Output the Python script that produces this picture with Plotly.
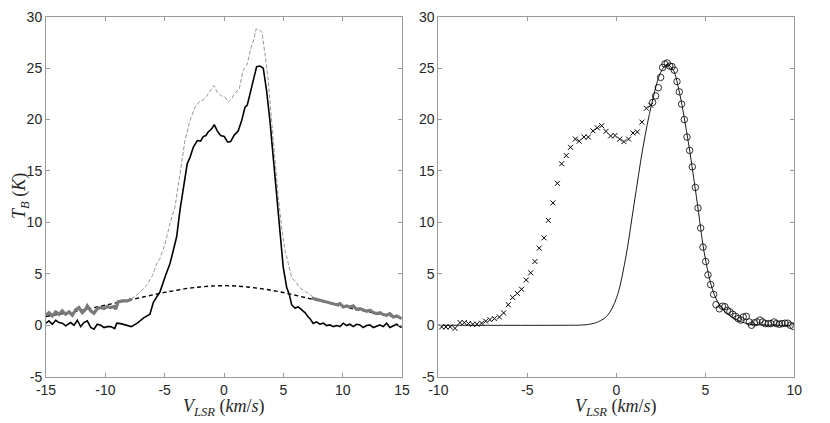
import plotly.graph_objects as go

# ---------------- Left panel data ----------------
solid_v = [-15.0, -14.75, -14.47, -14.18, -13.9, -13.63, -13.34, -12.92, -12.64, -12.36,
           -12.08, -11.8, -11.52, -11.23, -10.96, -10.68, -10.39, -10.11, -9.84, -9.55,
           -9.21, -9.04, -8.71, -8.29, -7.81, -7.31, -6.74, -6.24, -5.96, -5.62,
           -5.4, -4.97, -4.55, -4.27, -3.99, -3.71, -3.43, -3.1, -2.87, -2.59,
           -2.25, -1.97, -1.75, -1.52, -1.33, -1.04, -0.82, -0.57, -0.28, 0.02,
           0.31, 0.56, 0.84, 1.2, 1.49, 1.77, 1.96, 2.25, 2.61, 2.75,
           3.03, 3.31, 3.59, 3.87, 4.15, 4.43, 4.71, 4.99, 5.28, 5.5,
           5.7, 5.98, 6.26, 6.54, 6.82, 7.1, 7.24, 7.52, 7.8, 8.08,
           8.37, 8.65, 8.93, 9.21, 9.49, 9.77, 10.05, 10.33, 10.61, 10.89,
           11.17, 11.45, 11.73, 12.02, 12.3, 12.58, 12.86, 13.14, 13.42, 13.7,
           13.98, 14.26, 14.55, 14.82, 14.97]
solid_T = [0.2, 0.43, 0.1, 0.49, 0.26, 0.2, -0.06, 0.26, 0.0, 0.49,
           -0.13, 0.26, 0.43, -0.22, -0.38, 0.1, 0.0, -0.22, -0.13, -0.13,
           -0.32, 0.2, 0.16, 0.0, -0.13, 0.2, 0.75, 1.07, 2.2, 2.85,
           3.23, 4.7, 6.0, 7.3, 8.6, 11.2, 13.4, 15.7, 16.3, 17.3,
           17.96, 17.9, 18.35, 18.45, 18.8, 19.1, 19.5, 18.9, 18.45, 18.35,
           17.8, 17.86, 18.45, 18.9, 19.9, 21.2, 21.4, 22.8, 24.6, 25.15,
           25.2, 25.0, 22.8, 19.9, 16.3, 12.5, 8.9, 5.66, 3.7, 3.0,
           2.0, 1.68, 1.78, 1.46, 1.23, 0.8, 0.65, 0.17, 0.33, 0.1,
           0.2, -0.03, 0.03, -0.13, -0.03, -0.13, 0.2, -0.03, 0.1, -0.13,
           0.1, 0.03, -0.22, -0.03, 0.03, -0.22, -0.13, 0.03, -0.13, 0.2,
           -0.22, -0.03, 0.1, -0.13, -0.22]

orig_v = [-7.81, -7.3, -6.74, -6.47, -6.0, -5.67, -5.4, -4.97, -4.55, -4.13,
          -3.71, -3.29, -2.87, -2.45, -2.03, -1.75, -1.46, -1.18, -0.85, -0.57,
          -0.2, 0.08, 0.36, 0.64, 0.92, 1.29, 1.62, 1.96, 2.25, 2.52,
          2.7, 2.95, 3.2, 3.45, 3.73, 4.01, 4.29, 4.57, 4.86, 5.14,
          5.42, 5.7, 5.98, 6.4, 6.83, 7.25, 7.52]
orig_T = [2.55, 3.0, 3.6, 3.95, 4.9, 6.0, 6.5, 7.9, 9.9, 11.5,
          14.7, 17.96, 19.9, 21.2, 21.8, 21.9, 22.3, 22.8, 23.3, 22.65,
          22.3, 22.2, 21.7, 22.0, 22.55, 23.0, 24.8, 25.4, 26.9, 27.8,
          28.8, 28.75, 28.5, 26.4, 23.8, 19.9, 16.0, 12.5, 9.5, 7.3,
          6.0, 4.6, 4.3, 3.65, 3.3, 3.0, 2.7]

wingL_v = [-15.0, -14.75, -14.47, -14.18, -13.9, -13.63, -13.34, -13.06, -12.78, -12.5,
           -12.22, -11.94, -11.66, -11.52, -11.23, -10.96, -10.68, -10.39, -10.11, -9.84,
           -9.55, -9.27, -9.13, -8.93, -8.57, -8.15, -7.81]
wingL_T = [0.98, 1.23, 0.91, 1.3, 1.07, 1.4, 1.07, 1.3, 0.98, 1.49,
           1.72, 1.23, 1.56, 1.88, 1.4, 1.17, 1.62, 1.72, 1.62, 1.82,
           1.72, 1.82, 1.56, 2.27, 2.37, 2.37, 2.53]
wingR_v = [7.38, 7.8, 8.23, 8.65, 9.07, 9.49, 9.77, 10.05, 10.33, 10.61,
           10.89, 11.17, 11.45, 11.73, 12.02, 12.3, 12.58, 12.86, 13.14, 13.42,
           13.7, 13.98, 14.26, 14.55, 14.82, 14.97]
wingR_T = [2.65, 2.53, 2.43, 2.27, 2.2, 2.0, 2.1, 1.78, 1.88, 1.78,
           1.88, 1.55, 1.62, 1.46, 1.36, 1.46, 1.23, 1.13, 1.23, 1.04,
           0.97, 1.13, 0.81, 0.91, 0.72, 0.65]

base_v = list(range(-15, 16))
base_T = [0.85, 1.05, 1.25, 1.45, 1.7, 1.95, 2.2, 2.45, 2.7, 2.95,
          3.2, 3.4, 3.6, 3.72, 3.82, 3.85, 3.82, 3.72, 3.58, 3.4,
          3.18, 2.92, 2.65, 2.38, 2.1, 1.82, 1.57, 1.35, 1.12, 0.9, 0.72]

# ---------------- Right panel data ----------------
cross_v = [-9.81, -9.57, -9.33, -9.06, -8.78, -8.54, -8.31, -8.07, -7.83, -7.57,
           -7.34, -7.1, -6.85, -6.57, -6.33, -6.07, -5.82, -5.56, -5.32, -5.06,
           -4.81, -4.57, -4.33, -4.06, -3.82, -3.56, -3.31, -3.07, -2.81, -2.57,
           -2.30, -2.08, -1.82, -1.57, -1.31, -1.07, -0.82, -0.58, -0.32, -0.07,
           0.19, 0.43, 0.69, 0.94, 1.18, 1.44, 1.69, 1.93]
cross_T = [-0.16, -0.16, -0.16, -0.3, 0.26, 0.26, 0.16, 0.1, 0.1, 0.2,
           0.4, 0.55, 0.65, 0.8, 1.2, 2.0, 2.7, 3.1, 3.5, 4.4,
           5.1, 6.2, 7.5, 8.5, 10.2, 11.9, 13.8, 15.7, 16.5, 17.3,
           18.1, 17.9, 18.3, 18.3, 18.9, 19.2, 19.4, 18.85, 18.4, 18.45,
           18.1, 17.85, 18.1, 18.7, 18.8, 19.75, 21.1, 21.4]

circ_v = [2.04, 2.21, 2.36, 2.49, 2.60, 2.73, 2.86, 3.0, 3.13, 3.26,
          3.41, 3.54, 3.67, 3.82, 3.97, 4.12, 4.27, 4.44, 4.59, 4.74,
          4.87, 5.02, 5.15, 5.30, 5.47, 5.60, 5.79, 5.96, 6.10, 6.24,
          6.38, 6.54, 6.70, 6.85, 7.0, 7.13, 7.30, 7.47, 7.60, 7.75,
          7.90, 8.07, 8.22, 8.37, 8.54, 8.69, 8.86, 9.0, 9.16, 9.31,
          9.48, 9.63, 9.78, 9.94]
circ_T = [21.66, 22.3, 23.1, 24.1, 25.06, 25.4, 25.5, 25.2, 25.15, 24.8,
          23.7, 22.7, 21.5, 20.0, 18.3, 17.0, 15.4, 13.4, 11.4, 9.45,
          7.6, 6.2, 4.9, 3.95, 3.0, 2.0, 1.6, 1.85, 1.8, 1.45,
          1.3, 1.07, 0.87, 0.65, 0.5, 0.8, 0.87, 0.32, 0.0, 0.23,
          0.32, 0.5, 0.32, 0.16, 0.16, 0.16, 0.32, 0.16, 0.1, 0.16,
          0.2, 0.2, 0.0, -0.1]

fit_v = [-10, -3, -2, -1.5, -1, -0.5, 0, 0.5, 1, 1.5,
         2, 2.5, 2.85, 3.2, 3.5, 4, 4.5, 5, 5.5, 6,
         6.5, 7, 7.5, 8, 9, 10]
fit_T = [0, 0, 0.02, 0.1, 0.35, 0.95, 2.6, 6.3, 11.8, 17.3,
         21.6, 24.6, 25.35, 24.8, 23.0, 18.3, 12.5, 6.5, 3.0, 1.5,
         0.8, 0.35, 0.12, 0.04, 0, 0]

# ---------------- Styling ----------------
AX = "#9a9a9a"
TXT = "#262626"
TICKFONT = dict(family="Liberation Sans, Arial, sans-serif", size=14, color=TXT)
LABFONT = dict(family="Liberation Serif, DejaVu Serif, serif", size=18, color=TXT)

# page body adds an 8px offset; the figure is sized and positioned to compensate
OFF = 8
W, H = 830 - OFF, 423 - OFF


def px(xw):
    return (xw - OFF) / W


def py(yw):
    return (H - (yw - OFF)) / H


fig = go.Figure()

# left panel
fig.add_trace(go.Scatter(x=base_v, y=base_T, mode="lines", line_shape="spline",
                         line=dict(color="black", width=1.4, dash="4px,3px"),
                         xaxis="x", yaxis="y", showlegend=False))
fig.add_trace(go.Scatter(x=orig_v, y=orig_T, mode="lines",
                         line=dict(color="#8a8a8a", width=0.9, dash="4px,2px"),
                         xaxis="x", yaxis="y", showlegend=False))
fig.add_trace(go.Scatter(x=wingL_v + [None] + wingR_v, y=wingL_T + [None] + wingR_T,
                         mode="lines", line=dict(color="#7a7a7a", width=3.2),
                         xaxis="x", yaxis="y", showlegend=False, connectgaps=False))
fig.add_trace(go.Scatter(x=solid_v, y=solid_T, mode="lines",
                         line=dict(color="black", width=1.6),
                         xaxis="x", yaxis="y", showlegend=False))

# right panel
fig.add_trace(go.Scatter(x=fit_v, y=fit_T, mode="lines", line_shape="spline",
                         line=dict(color="black", width=0.9),
                         xaxis="x2", yaxis="y2", showlegend=False))
fig.add_trace(go.Scatter(x=cross_v, y=cross_T, mode="markers",
                         marker=dict(symbol="x-thin", size=5, color="black",
                                     line=dict(color="black", width=1)),
                         xaxis="x2", yaxis="y2", showlegend=False))
fig.add_trace(go.Scatter(x=circ_v, y=circ_T, mode="markers",
                         marker=dict(symbol="circle-open", size=6.5, color="black",
                                     line=dict(color="black", width=0.8)),
                         xaxis="x2", yaxis="y2", showlegend=False))

yticks = [-5, 0, 5, 10, 15, 20, 25, 30]
ytext = [str(t) for t in yticks]
x1ticks = [-15, -10, -5, 0, 5, 10, 15]
x2ticks = [-10, -5, 0, 5, 10]

common = dict(showline=True, mirror="ticks", linecolor=AX, linewidth=1,
              ticks="inside", ticklen=4, tickcolor=AX, tickwidth=1,
              showgrid=False, zeroline=False, tickfont=TICKFONT, automargin=False)

ydom = [py(376.7), py(16.7)]
fig.update_layout(
    width=W, height=H,
    margin=dict(l=0, r=0, t=0, b=0, autoexpand=False),
    paper_bgcolor="white", plot_bgcolor="white",
    xaxis=dict(domain=[px(46), px(402)], range=[-15, 15], anchor="y",
               tickvals=x1ticks, ticktext=[str(t) for t in x1ticks], **common),
    yaxis=dict(domain=ydom, range=[-5, 30], anchor="x",
               tickvals=yticks, ticktext=ytext, **common),
    xaxis2=dict(domain=[px(438.3), px(794.3)], range=[-10, 10], anchor="y2",
                tickvals=x2ticks, ticktext=[str(t) for t in x2ticks], **common),
    yaxis2=dict(domain=ydom, range=[-5, 30], anchor="x2",
                tickvals=yticks, ticktext=ytext, **common),
    annotations=[
        dict(text="<i>V</i><sub><i>LSR</i></sub> (<i>km</i>/<i>s</i>)", xref="paper", yref="paper",
             x=px(224), y=py(407), showarrow=False, font=LABFONT,
             xanchor="center", yanchor="middle"),
        dict(text="<i>V</i><sub><i>LSR</i></sub> (<i>km</i>/<i>s</i>)", xref="paper", yref="paper",
             x=px(616), y=py(407), showarrow=False, font=LABFONT,
             xanchor="center", yanchor="middle"),
        dict(text="<i>T</i><sub><i>B</i></sub> (<i>K</i>)", xref="paper", yref="paper",
             x=px(20), y=py(196), showarrow=False, font=LABFONT, textangle=-90,
             xanchor="center", yanchor="middle"),
    ],
)

fig.write_html("out.html")
